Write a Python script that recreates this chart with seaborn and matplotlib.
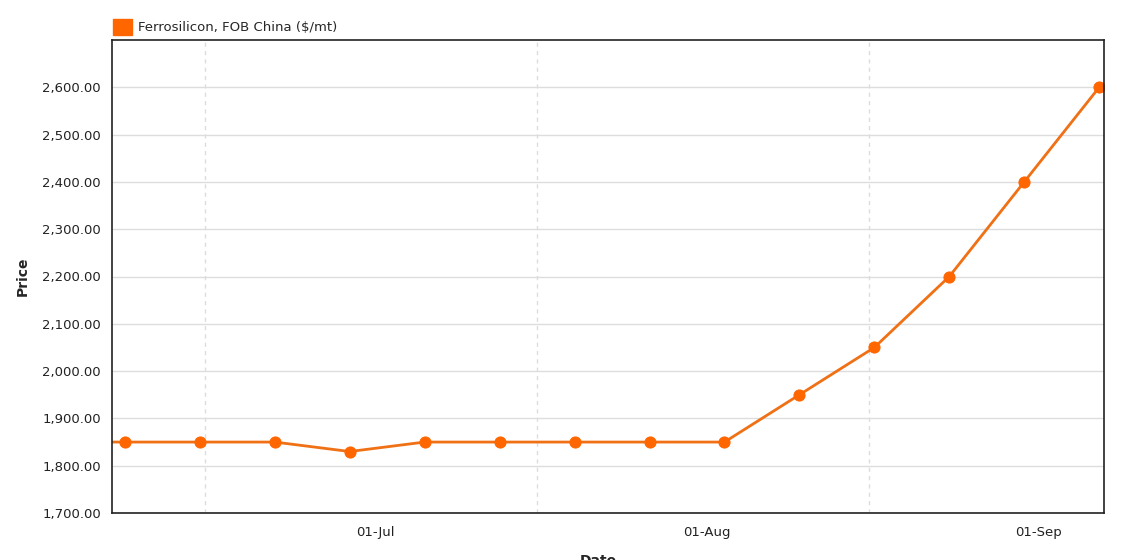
import pandas as pd
import matplotlib
matplotlib.use("Agg")
import matplotlib.pyplot as plt
import matplotlib.dates as mdates
import matplotlib.transforms as mtransforms
from matplotlib.patches import Patch
from matplotlib.ticker import FuncFormatter, FixedLocator
import seaborn as sns

# weekly assessments (first one sits just left of the visible window)
dates = ["2019-06-01", "2019-06-08", "2019-06-15", "2019-06-22", "2019-06-29",
         "2019-07-06", "2019-07-13", "2019-07-20", "2019-07-27", "2019-08-03",
         "2019-08-10", "2019-08-17", "2019-08-24", "2019-08-31", "2019-09-07"]
prices = [1850, 1850, 1850, 1850, 1830,
          1850, 1850, 1850, 1850, 1850,
          1950, 2050, 2200, 2400, 2600]
series_name = "Ferrosilicon, FOB China ($/mt)"
mid_month = ["2019-06-15 12:00", "2019-07-16 12:00", "2019-08-16 12:00"]

df = pd.DataFrame({"Date": pd.to_datetime(dates), "Price": prices})

sns.set_style("white")
plt.rcParams["font.family"] = ["DejaVu Sans"]

orange = "#FF6600"
line_col = "#F07015"

fig = plt.figure(figsize=(11.47, 5.6), dpi=100)
ax = fig.add_axes([0.0976, 0.0839, 0.865, 0.8447])

sns.lineplot(data=df, x="Date", y="Price", ax=ax, color=line_col, linewidth=2,
             marker="o", markersize=8, markerfacecolor=orange,
             markeredgecolor=orange)

ax.set_xlim(pd.Timestamp("2019-06-06 19:00"), pd.Timestamp("2019-09-07 11:00"))
ax.set_ylim(1700, 2700)
ax.set_yticks(range(1700, 2700, 100))
ax.yaxis.set_major_formatter(FuncFormatter(lambda v, p: f"{v:,.2f}"))

ax.xaxis.set_major_locator(mdates.MonthLocator(bymonthday=1))
ax.xaxis.set_major_formatter(mdates.DateFormatter("%d-%b"))
ax.xaxis.set_minor_locator(FixedLocator(mdates.date2num(pd.to_datetime(mid_month))))

ax.grid(axis="y", which="major", color="#dddddd", linewidth=1)
ax.grid(axis="x", which="minor", color="#dddddd", linewidth=1, linestyle=(0, (3, 3)))
ax.grid(axis="x", which="major", visible=False)
ax.set_axisbelow(True)

ax.tick_params(axis="both", which="both", length=0, labelsize=9.5, colors="#222222")
ax.tick_params(axis="x", pad=9)
ax.tick_params(axis="y", pad=8)

# nudge the month labels a little right, like the original
shift = mtransforms.ScaledTranslation(4 / 100, 0, fig.dpi_scale_trans)
for lbl in ax.get_xticklabels():
    lbl.set_transform(lbl.get_transform() + shift)

for s in ax.spines.values():
    s.set_color("#222222")
    s.set_linewidth(1.2)

ax.set_ylabel("Price", fontsize=10, fontweight="bold", labelpad=9)
ax.set_xlabel("Date", fontsize=10, fontweight="bold", va="top")
ax.xaxis.set_label_coords(0.49, -0.087)

handle = Patch(facecolor=orange, edgecolor=orange)
ax.legend([handle], [series_name], loc="lower left", bbox_to_anchor=(-0.004, 1.0),
          frameon=False, fontsize=9.5, handlelength=1.4, handleheight=1.4,
          handletextpad=0.5, borderaxespad=0.2, borderpad=0.2)

fig.savefig("out.png", dpi=100)
